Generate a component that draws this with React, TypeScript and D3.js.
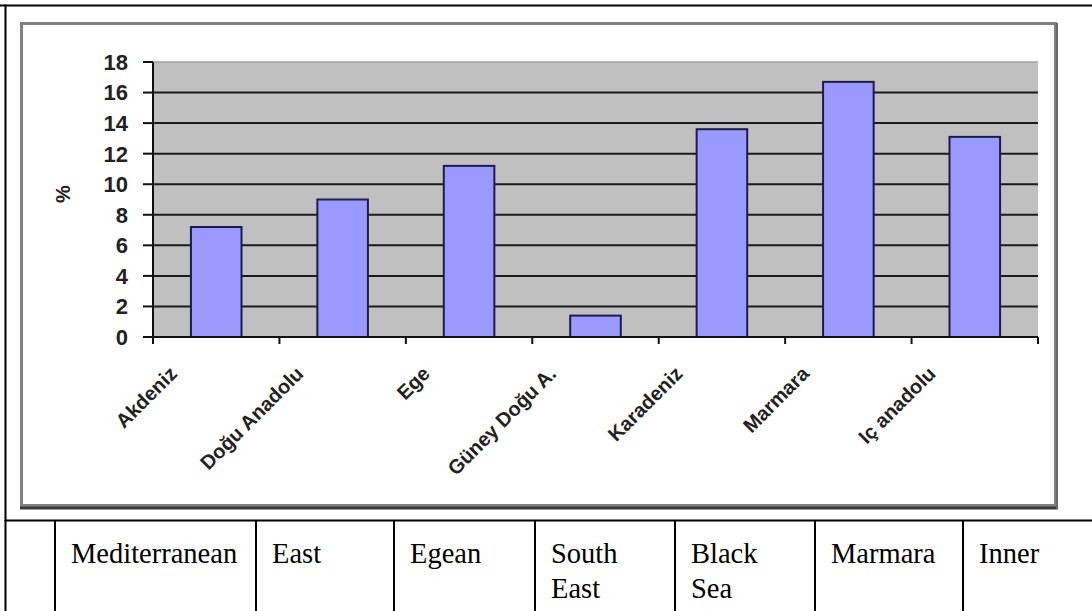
import React from "react";
import * as d3 from "d3";

// regional shares (%)
const regions = ["Akdeniz", "Doğu Anadolu", "Ege", "Güney Doğu A.", "Karadeniz", "Marmara", "Iç anadolu"];
const shares = [7.2, 9.0, 11.2, 1.4, 13.6, 16.7, 13.1];
const yTicks = [0, 2, 4, 6, 8, 10, 12, 14, 16, 18];
// english names in the table row under the chart
const englishNames = [["Mediterranean"], ["East"], ["Egean"], ["South", "East"], ["Black", "Sea"], ["Marmara"], ["Inner"]];

const W = 1092;
const H = 611;
const plot = { left: 153, right: 1038, top: 62, bottom: 337 };
// table column edges (layout of the html table around the picture)
const colEdges = [5.5, 55, 256, 394, 535, 675, 815, 963];
const rowLine = 520.5;

const sans = "Arial, 'Liberation Sans', sans-serif";
const serif = "'Times New Roman', 'Liberation Serif', serif";

export default function App() {
  const x = d3
    .scaleBand<string>()
    .domain(regions)
    .range([plot.left, plot.right])
    .paddingInner(0.6)
    .paddingOuter(0.3);
  const y = d3.scaleLinear().domain([0, 18]).range([plot.bottom, plot.top]);
  const step = x.step();
  const catTicks = d3.range(regions.length + 1).map((i) => plot.left + i * step);

  return (
    <svg width={W} height={H} style={{ position: "absolute", left: 0, top: 0, display: "block" }}>
      <rect width={W} height={H} fill="#fff" />

      {/* chart frame */}
      <rect x={21.5} y={23.5} width={1034} height={482} fill="#fff" stroke="#808080" strokeWidth={3} />
      <line x1={20} x2={1058} y1={508} y2={508} stroke="#3a3a3a" strokeWidth={3} />
      <line x1={1057} x2={1057} y1={23} y2={509} stroke="#6a6a6a" strokeWidth={2} />

      {/* plot area */}
      <rect x={plot.left} y={plot.top} width={plot.right - plot.left} height={plot.bottom - plot.top} fill="#c0c0c0" />
      <line x1={plot.left} x2={plot.right} y1={plot.top} y2={plot.top} stroke="#a0a0a0" strokeWidth={1.5} />
      {yTicks.filter((t) => t > 0 && t < 18).map((t) => (
        <line key={t} x1={plot.left} x2={plot.right} y1={y(t)} y2={y(t)} stroke="#1a1a1a" strokeWidth={2} />
      ))}

      {regions.map((r, i) => (
        <rect
          key={r}
          x={x(r)}
          y={y(shares[i])}
          width={x.bandwidth()}
          height={y(0) - y(shares[i])}
          fill="#9999ff"
          stroke="#1c1c4a"
          strokeWidth={2}
        />
      ))}

      {/* axes */}
      <line x1={plot.left} x2={plot.left} y1={plot.top} y2={plot.bottom} stroke="#111" strokeWidth={2} />
      <line x1={plot.left} x2={plot.right} y1={plot.bottom} y2={plot.bottom} stroke="#111" strokeWidth={2} />
      {yTicks.map((t) => (
        <g key={t}>
          <line x1={plot.left - 10} x2={plot.left} y1={y(t)} y2={y(t)} stroke="#111" strokeWidth={2} />
          <text x={128} y={y(t)} dy="0.36em" textAnchor="end" fontFamily={sans} fontWeight="bold" fontSize={22} fill="#222">
            {t}
          </text>
        </g>
      ))}
      {catTicks.map((cx, i) => (
        <line key={i} x1={cx} x2={cx} y1={plot.bottom} y2={plot.bottom + 7} stroke="#111" strokeWidth={2} />
      ))}
      {regions.map((r) => {
        const cx = (x(r) ?? 0) + x.bandwidth() / 2;
        return (
          <text
            key={r}
            transform={`translate(${cx - 38},375) rotate(-45)`}
            textAnchor="end"
            fontFamily={sans}
            fontWeight="bold"
            fontSize={20}
            fill="#222"
          >
            {r}
          </text>
        );
      })}
      <text transform="translate(70,194) rotate(-90)" textAnchor="middle" fontFamily={sans} fontWeight="bold" fontSize={20} fill="#222">
        %
      </text>

      {/* surrounding table */}
      <line x1={0} x2={W} y1={5.5} y2={5.5} stroke="#000" strokeWidth={2} />
      <line x1={5.5} x2={5.5} y1={4.5} y2={H} stroke="#000" strokeWidth={2} />
      <line x1={4.5} x2={W} y1={rowLine} y2={rowLine} stroke="#000" strokeWidth={2} />
      {colEdges.slice(1).map((cx) => (
        <line key={cx} x1={cx} x2={cx} y1={rowLine} y2={H} stroke="#000" strokeWidth={2} />
      ))}
      {englishNames.map((lines, i) => (
        <text key={i} x={colEdges[i + 1] + 16} y={563} fontFamily={serif} fontSize={28.5} fill="#000">
          {lines.map((l, j) => (
            <tspan key={j} x={colEdges[i + 1] + 16} dy={j === 0 ? 0 : 35}>
              {l}
            </tspan>
          ))}
        </text>
      ))}
    </svg>
  );
}
